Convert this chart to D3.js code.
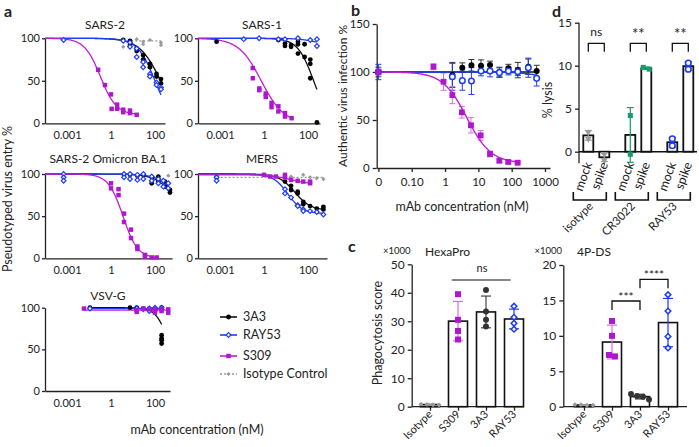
<!DOCTYPE html>
<html><head><meta charset="utf-8">
<script src="https://cdn.jsdelivr.net/npm/d3@7"></script>
<style>
body{margin:0;background:#fff;}
svg text{font-family:Lato,"Liberation Sans",Arial,sans-serif;fill:#222;}
</style></head><body>
<script>
// ---------------- DATA ----------------
// panel a : [concentration nM, % entry]
const aXTickVals=[0.01,1,100], aXTickText=["0.001","1","100"], aYTicks=[0,50,100];
const sars2_S309=[[0.26,63],[0.53,45],[1,34],[1.07,17],[1.9,22],[1.9,17],[3.6,16],[3.6,13],[7.3,15],[7.3,12],[14.7,10]];
const sars2_3A3=[[3.6,98],[7.3,97],[7.3,92],[14.7,88],[14.7,85],[29,80],[29,75],[59,70],[59,66],[117,58],[117,55],[187,52],[187,47]];
const sars2_RAY53=[[0.007,98],[3.6,97],[7.3,95],[7.3,90],[14.7,88],[14.7,78],[29,72],[29,66],[59,58],[59,55],[117,48],[117,45],[187,42],[187,40]];
const sars2_Iso=[[3.6,90],[14.7,99],[29,96],[29,93],[59,98],[187,95],[187,92]];
const sars1_S309=[[0.31,65],[0.31,53],[0.61,41],[0.61,39],[1.2,35],[1.2,31],[2.2,24],[2.2,19],[4.5,20],[4.5,14],[9,12],[9,8],[18,6]];
const sars1_3A3=[[0.007,96],[4.5,98],[9,94],[9,91],[17,92],[17,90],[35,96],[35,93],[35,82],[70,93],[70,78],[127,75],[127,70],[127,53],[255,1]];
const sars1_RAY53=[[0.12,99],[0.6,100],[4.5,99],[9,99],[35,100],[127,98],[255,99],[255,91]];
const omi_S309=[[1,89],[1,83],[2.2,82],[2.2,75],[3.9,53],[3.9,43],[8.1,34],[8.1,24],[15.8,14],[15.8,11],[35,4],[35,2],[71,1],[119,1]];
const omi_3A3=[[3.9,99],[7.3,99],[15.8,98],[29.6,99],[71,96],[71,89],[142,97],[142,91],[285,91],[285,85],[480,81],[480,78]];
const omi_RAY53=[[0.007,100],[0.007,96],[0.007,92],[3.9,100],[3.9,96],[7.3,100],[7.3,94],[15.8,99],[15.8,93],[29.6,100],[29.6,94],[71,97],[71,92],[142,94],[142,89],[240,92],[240,85],[400,89],[400,83]];
const omi_Iso=[[400,98]];
const mers_S309=[[1,99],[1.9,97],[3.5,97],[9,99],[9,96],[17,93],[34,92],[61,91],[124,91],[124,89]];
const mers_3A3=[[0.007,96],[9,91],[17,86],[17,81],[34,79],[34,77],[61,67],[61,64],[124,62],[250,59],[500,61],[500,58]];
const mers_RAY53=[[0.007,96],[0.007,92],[9,82],[9,77],[17,72],[34,63],[34,62],[61,58],[61,56],[124,56],[250,55],[500,52]];
const mers_Iso=[[0.007,96],[17,97],[61,99],[124,96],[250,95],[500,94]];
const vsv_S309=[[0.059,99],[14.7,97],[14.7,95],[29.6,99],[55,98],[100,94],[100,98],[200,98],[200,96],[400,98],[400,94]];
const vsv_3A3=[[0.11,100],[7.3,100],[14.7,100],[29.6,99],[55,99],[55,97],[100,99],[100,96],[200,100],[200,67],[200,63],[200,61],[200,57]];
const vsv_RAY53=[[0.11,99],[14.7,99],[29.6,98],[55,99],[55,96],[100,100],[100,98],[200,100],[200,98]];
// 4-parameter fits: [top, bottom, IC50, hill]
const sars2_fit={S309:[100,10,0.33,1.2],"3A3":[100,0,180,0.9],RAY53:[100,0,100,1.1],Iso:[97,97,1,1]};
const sars1_fit={S309:[100,0,0.75,0.85],"3A3":[100,0,180,1.2],RAY53:[100,90,300,1]};
const omi_fit={S309:[100,0,3.5,1.3],"3A3":[100,0,2000,0.9],RAY53:[100,0,3000,0.9]};
const mers_fit={S309:[99,88,15,1],"3A3":[100,57,25,1.2],RAY53:[100,53,12,1.3],Iso:[96,96,1,1]};
const vsv_fit={S309:[97,97,1,1],"3A3":[100,0,500,1.5],RAY53:[99,99,1,1]};
const legendNames=["3A3","RAY53","S309","Isotype Control"];

// panel b : authentic virus
const bXTickVals=[0.01,0.1,1,10,100,1000], bXTickText=["0","0.10","1","10","100","1000"], bYTicks=[0,50,100,150];
const bS309Conc=[0,0.45,0.9,1.66,3.2,6,11.7,22.4,42.7,79,151];
const bS309Mean=[100,105.5,89.9,76,58,44.5,34,14.6,7.6,6.3,5.5];
const bS309SD=[3,3,9,9,6,8,5,3,2,1.5,1];
const bConc=[0,1.66,3.3,6.2,12,22.4,43,80,153,316,562];
const b3A3Mean=[100,97,104.5,107,106.6,107.3,100,104,102,105.5,101];
const b3A3SD=[5,13,5,6,6,4,5,4,8,8,6];
const bRAY53Mean=[100,95,91,90.6,101,101,99.3,101,100.3,104.5,93.4];
const bRAY53SD=[8,14,10,14,5,6,5,4,4,10,8];
const bFitS309=[100,5,4.5,1.2], bFit3A3=[100,100,1,1], bFitRAY53=[100,94,500,1.5];

// panel c : phagocytosis (x1000)
const cCats=["Isotype","S309","3A3","RAY53"];
const hexaPts=[[0.8,0.7,0.9,0.6],[39.5,30.5,26.6,23.6],[41,33.4,30.5,28.2],[35.3,31.4,29.3,27.2]];
const dsPts=[[0.3,0.2,0.3,0.2],[12.1,10,7.3,7.1],[1.8,1.5,1.4,1.0],[15.8,13.5,9.9,8.3]];

// panel d : % lysis
const dGroups=["isotype","CR3022","RAY53"], dConds=["mock","spike"];
const dPts=[[[2.3,1.5],[-0.3,-1.0]],[[4.2,-0.3],[9.6,9.8]],[[1.5,0.7],[10.3,9.6]]];
const dSig=["ns","**","**"];

// ---------------- DRAW ----------------
const COL={S309:"#c21ed6",S309pt:"#ae17cf","3A3":"#111",RAY53:"#1f3cf5",Iso:"#9a9a9a",green:"#1a9b6c"};
const svg=d3.select("body").append("svg").attr("width",699).attr("height",447);
const fourPL=(p,c)=>p[1]+(p[0]-p[1])/(1+Math.pow(c/p[2],p[3]));
function styleAxis(s,fs){s.selectAll("path,line").attr("stroke","#222").attr("stroke-width",1.3);
  s.selectAll("text").attr("font-size",fs||11).attr("fill","#222");}
function label(x,y,t,fs,o={}){const e=svg.append("text").attr("x",x).attr("y",y).text(t).attr("font-size",fs)
  .attr("text-anchor",o.anchor||"middle");if(o.bold)e.attr("font-weight","bold");
  if(o.rot!=null)e.attr("transform",`rotate(${o.rot},${x},${y})`);return e;}
const dia=(s)=>d3.symbol(d3.symbolSquare,s)();
function marker(g,type,x,y){
  if(type==="S309")g.append("path").attr("d",d3.symbol(d3.symbolSquare,20)()).attr("transform",`translate(${x},${y})`).attr("fill",COL.S309pt);
  else if(type==="3A3")g.append("circle").attr("cx",x).attr("cy",y).attr("r",2.4).attr("fill","#000");
  else if(type==="RAY53")g.append("path").attr("d",dia(11)).attr("transform",`translate(${x},${y}) rotate(45)`).attr("fill","#fff").attr("stroke",COL.RAY53).attr("stroke-width",1.2);
  else g.append("path").attr("d",dia(9)).attr("transform",`translate(${x},${y}) rotate(45)`).attr("fill",COL.Iso);
}
function panelA(cfg){
  const g=svg.append("g");
  const x=d3.scaleLog().domain([0.001,Math.pow(10,-3+cfg.w/22)]).range([cfg.l,cfg.l+cfg.w]);
  const y=d3.scaleLinear().domain([0,100]).range([cfg.y0,cfg.y100]);
  g.append("g").attr("transform",`translate(${cfg.l},0)`).call(d3.axisLeft(y).tickValues(aYTicks).tickSize(3).tickPadding(2).tickSizeOuter(0)).call(styleAxis);
  g.append("g").attr("transform",`translate(0,${cfg.y0})`).call(d3.axisBottom(x).tickValues(aXTickVals).tickFormat((d,i)=>aXTickText[i]).tickSize(0).tickPadding(8).tickSizeOuter(0)).call(styleAxis);
  label(cfg.tx,cfg.ty,cfg.title,12);
  const order=["Iso","3A3","RAY53","S309"];
  const line=d3.line().x(d=>x(d[0])).y(d=>y(d[1]));
  order.forEach(k=>{
    const data=cfg.data[k],p=cfg.fit[k];if(!data||!data.length||!p)return;
    const ext=d3.extent(data,d=>d[0]);
    const c0=(k==="Iso"||cfg.fromData)?ext[0]:0.001, c1=ext[1];
    const l0=Math.log10(c0),l1=Math.log10(c1);
    const pts=d3.range(0,121).map(i=>{const c=Math.pow(10,l0+(l1-l0)*i/120);return [c,fourPL(p,c)];});
    g.append("path").attr("d",line(pts)).attr("fill","none").attr("stroke",COL[k]).attr("stroke-width",1.3)
      .attr("stroke-dasharray",k==="Iso"?"2,2":null);
  });
  order.forEach(k=>{const data=cfg.data[k];if(!data)return;data.forEach(d=>marker(g,k,x(d[0]),y(d[1])));});
}
panelA({l:45,w:120,y0:123.3,y100:38.3,title:"SARS-2",tx:105,ty:29,data:{S309:sars2_S309,"3A3":sars2_3A3,RAY53:sars2_RAY53,Iso:sars2_Iso},fit:sars2_fit});
panelA({l:198,w:122,y0:123.3,y100:38.3,title:"SARS-1",tx:262,ty:29,data:{S309:sars1_S309,"3A3":sars1_3A3,RAY53:sars1_RAY53},fit:sars1_fit});
panelA({l:45,w:127,y0:258.3,y100:174,title:"SARS-2 Omicron BA.1",tx:108,ty:163,data:{S309:omi_S309,"3A3":omi_3A3,RAY53:omi_RAY53,Iso:omi_Iso},fit:omi_fit});
panelA({l:198,w:129,y0:258.3,y100:174,title:"MERS",tx:262,ty:163,data:{S309:mers_S309,"3A3":mers_3A3,RAY53:mers_RAY53,Iso:mers_Iso},fit:mers_fit});
panelA({l:45,w:125,y0:391,y100:307.7,title:"VSV-G",tx:108,ty:300,data:{S309:vsv_S309,"3A3":vsv_3A3,RAY53:vsv_RAY53},fit:vsv_fit,fromData:true});
label(4,17,"a",16,{anchor:"start",bold:true});
label(12,199,"Pseudotyped virus entry %",12.5,{rot:-90});
label(197,434,"mAb concentration (nM)",12.5);
// legend
const legKeys=["3A3","RAY53","S309","Iso"], legY=[317,335,356,374];
legKeys.forEach((k,i)=>{const lg=svg.append("g");
  lg.append("line").attr("x1",220).attr("x2",237).attr("y1",legY[i]).attr("y2",legY[i]).attr("stroke",COL[k]).attr("stroke-width",1.6).attr("stroke-dasharray",k==="Iso"?"2,2":null);
  marker(lg,k,228.5,legY[i]);
  label(243,legY[i]+4,legendNames[i],12.5,{anchor:"start"});});

// ---- panel b
(function(){
  const g=svg.append("g");
  const x=d3.scaleLog().domain([0.0089,1413]).range([376.7,550]);
  const y=d3.scaleLinear().domain([0,150]).range([168,24]);
  const xc=c=>x(c>0?c:0.01);
  g.append("g").attr("transform","translate(376.7,0)").call(d3.axisLeft(y).tickValues(bYTicks).tickSize(4).tickPadding(3).tickSizeOuter(0)).call(styleAxis,11.5);
  g.append("g").attr("transform","translate(0,168)").call(d3.axisBottom(x).tickValues(bXTickVals).tickFormat((d,i)=>bXTickText[i]).tickSize(4).tickPadding(6).tickSizeOuter(0)).call(styleAxis,11.5);
  const line=d3.line().x(d=>x(d[0])).y(d=>y(d[1]));
  const series=[{k:"3A3",c:bConc,m:b3A3Mean,s:b3A3SD,p:bFit3A3,eb:"#333"},{k:"RAY53",c:bConc,m:bRAY53Mean,s:bRAY53SD,p:bFitRAY53,eb:COL.RAY53},{k:"S309",c:bS309Conc,m:bS309Mean,s:bS309SD,p:bFitS309,eb:"#d470e4"}];
  series.forEach(S=>{S.c.forEach((c,i)=>{const X=xc(c),y1=y(S.m[i]+S.s[i]),y2=y(S.m[i]-S.s[i]);
    g.append("line").attr("x1",X).attr("x2",X).attr("y1",y1).attr("y2",y2).attr("stroke",S.eb).attr("stroke-width",1);
    [y1,y2].forEach(yy=>g.append("line").attr("x1",X-3).attr("x2",X+3).attr("y1",yy).attr("y2",yy).attr("stroke",S.eb).attr("stroke-width",1));});});
  series.forEach(S=>{const l0=Math.log10(0.01),l1=Math.log10(d3.max(S.c));
    const pts=d3.range(0,121).map(i=>{const c=Math.pow(10,l0+(l1-l0)*i/120);return [c,fourPL(S.p,c)];});
    g.append("path").attr("d",line(pts)).attr("fill","none").attr("stroke",S.k==="S309"?COL.S309:COL[S.k]).attr("stroke-width",1.4);});
  series.forEach(S=>S.c.forEach((c,i)=>{const X=xc(c),Y=y(S.m[i]);
    if(S.k==="S309")g.append("path").attr("d",d3.symbol(d3.symbolSquare,34)()).attr("transform",`translate(${X},${Y})`).attr("fill",COL.S309pt);
    else if(S.k==="3A3")g.append("circle").attr("cx",X).attr("cy",Y).attr("r",3).attr("fill","#000");
    else g.append("circle").attr("cx",X).attr("cy",Y).attr("r",2.8).attr("fill","#fff").attr("stroke",COL.RAY53).attr("stroke-width",1.5);}));
  label(351,16,"b",16,{anchor:"start",bold:true});
  label(347,96,"Authentic virus infection %",12,{rot:-90});
  label(462,211,"mAb concentration (nM)",12.5);
})();

// ---- panel c
function swarm(vals,y,gap){const idx=vals.map((v,i)=>i).sort((a,b)=>vals[b]-vals[a]);
  const off=new Array(vals.length).fill(0);let cl=[idx[0]];
  const flush=()=>{cl.forEach((j,n)=>off[j]=(n-(cl.length-1)/2)*gap);};
  for(let i=1;i<idx.length;i++){if(Math.abs(y(vals[idx[i]])-y(vals[cl[cl.length-1]]))<5)cl.push(idx[i]);else{flush();cl=[idx[i]];}}
  flush();return off;}
const cEb=[COL.Iso,"#d470e4","#444",COL.RAY53];
function panelC(cfg){
  const g=svg.append("g");
  const y=d3.scaleLinear().domain([0,cfg.max]).range([406.7,cfg.top]);
  const x=d3.scalePoint().domain(cCats).range(cfg.xr);
  g.append("g").attr("transform",`translate(${cfg.l},0)`).call(d3.axisLeft(y).tickValues(cfg.ticks).tickSize(4).tickPadding(3).tickSizeOuter(0)).call(styleAxis,12);
  const ax=g.append("g").attr("transform","translate(0,406.7)").call(d3.axisBottom(x).tickSize(4).tickFormat("").tickSizeOuter(0)).call(styleAxis);
  ax.select(".domain").attr("d",`M${cfg.l},0H${cfg.r}`);
  cCats.forEach((c,i)=>{const vals=cfg.pts[i],m=d3.mean(vals),sd=d3.deviation(vals),X=x(c);
    g.append("rect").attr("x",X-9.5).attr("width",19).attr("y",y(m)).attr("height",406.7-y(m)).attr("fill","#fff").attr("stroke","#111").attr("stroke-width",1.6);
    [[m-sd,m+sd]].forEach(([a,b])=>{g.append("line").attr("x1",X).attr("x2",X).attr("y1",y(a)).attr("y2",y(b)).attr("stroke",cEb[i]).attr("stroke-width",1.2);
      [a,b].forEach(v=>g.append("line").attr("x1",X-5).attr("x2",X+5).attr("y1",y(v)).attr("y2",y(v)).attr("stroke",cEb[i]).attr("stroke-width",1.2));});
    const off=swarm(vals,y,6);
    vals.forEach((v,j)=>{const px=X+off[j],py=y(v);
      if(i===1)g.append("path").attr("d",d3.symbol(d3.symbolSquare,36)()).attr("transform",`translate(${px},${py})`).attr("fill",COL.S309pt);
      else if(i===2)g.append("circle").attr("cx",px).attr("cy",py).attr("r",3).attr("fill","#333");
      else if(i===3)g.append("path").attr("d",dia(16)).attr("transform",`translate(${px},${py}) rotate(45)`).attr("fill","#fff").attr("stroke",COL.RAY53).attr("stroke-width",1.5);
      else g.append("path").attr("d",dia(12)).attr("transform",`translate(${px},${py}) rotate(45)`).attr("fill",COL.Iso);});
    label(X+3,415,c,11,{anchor:"end",rot:-45});
  });
  label(cfg.l-15,254,"×1000",9.5);
  label(cfg.tl,256,cfg.title,12,{anchor:"start"});
  return {x,y,g};
}
const hx=panelC({l:411.7,r:524,xr:[430,514],top:264.3,max:50,ticks:[0,10,20,30,40,50],pts:hexaPts,title:"HexaPro",tl:425});
svg.append("line").attr("x1",451.7).attr("x2",510.7).attr("y1",280).attr("y2",280).attr("stroke","#111").attr("stroke-width",1.2);
label(482,272,"ns",11);
const ds=panelC({l:563.3,r:687,xr:[584,668],top:265,max:20,ticks:[0,5,10,15,20],pts:dsPts,title:"4P-DS",tl:577});
function bracket(x1,x2,yTop,yLeg,t,ty,fs){const p=d3.path();p.moveTo(x1,yLeg);p.lineTo(x1,yTop);p.lineTo(x2,yTop);p.lineTo(x2,yLeg);
  svg.append("path").attr("d",p.toString()).attr("fill","none").attr("stroke","#111").attr("stroke-width",1.3);
  label((x1+x2)/2,ty,t,fs);}
bracket(ds.x("S309"),ds.x("3A3"),301,310,"***",301,12);
bracket(ds.x("3A3"),ds.x("RAY53"),279.3,288.3,"****",279,12);
label(348,252,"c",16,{anchor:"start",bold:true});
label(382,333,"Phagocytosis score",12.5,{rot:-90});

// ---- panel d
(function(){
  const g=svg.append("g");
  const y=d3.scaleLinear().domain([0,15]).range([151.7,22.7]);
  const gx=d3.scalePoint().domain(dGroups).range([596.3,680.3]);
  const cx=(gi,ci)=>gx(dGroups[gi])+(ci?8:-8);
  const ya=g.append("g").attr("transform","translate(579,0)").call(d3.axisLeft(y).tickValues([0,5,10,15]).tickSize(4).tickPadding(3).tickSizeOuter(0)).call(styleAxis,12);
  ya.select(".domain").attr("d",`M0,${y(15)}V${y(-1.35)}`);
  g.append("line").attr("x1",579).attr("x2",697).attr("y1",y(0)).attr("y2",y(0)).attr("stroke","#111").attr("stroke-width",1.6);
  const ptCol=[COL.Iso,COL.green,COL.RAY53];
  dGroups.forEach((grp,gi)=>{
    dConds.forEach((cnd,ci)=>{const vals=dPts[gi][ci],m=d3.mean(vals),sd=d3.deviation(vals),X=cx(gi,ci);
      g.append("rect").attr("x",X-5).attr("width",10).attr("y",Math.min(y(m),y(0))).attr("height",Math.abs(y(m)-y(0))).attr("fill","#fff").attr("stroke","#111").attr("stroke-width",1.8);
      g.append("line").attr("x1",X).attr("x2",X).attr("y1",y(m-sd)).attr("y2",y(m+sd)).attr("stroke",ptCol[gi]).attr("stroke-width",1.2);
      [m-sd,m+sd].forEach(v=>g.append("line").attr("x1",X-3.5).attr("x2",X+3.5).attr("y1",y(v)).attr("y2",y(v)).attr("stroke",ptCol[gi]).attr("stroke-width",1.2));
      const off=swarm(vals,y,6);
      vals.forEach((v,j)=>{const px=X+off[j],py=y(v);
        if(gi===0)g.append("path").attr("d",d3.symbol(d3.symbolTriangle,20)()).attr("transform",`translate(${px},${py}) rotate(180)`).attr("fill",COL.Iso);
        else if(gi===1)g.append("path").attr("d",d3.symbol(d3.symbolSquare,26)()).attr("transform",`translate(${px},${py})`).attr("fill",COL.green);
        else g.append("circle").attr("cx",px).attr("cy",py).attr("r",2.8).attr("fill","#fff").attr("stroke",COL.RAY53).attr("stroke-width",1.6);});
      label(X+4,164,cnd,12.5,{anchor:"end",rot:-70});
    });
    const x1=cx(gi,0),x2=cx(gi,1);
    bracket(x1,x2,43.3,51.7,dSig[gi],dSig[gi]==="ns"?36:39,dSig[gi]==="ns"?12:15);
    const b1=x1-15,b2=x2+2,p=d3.path();p.moveTo(b1,192);p.lineTo(b1,200);p.lineTo(b2,200);p.lineTo(b2,192);
    svg.append("path").attr("d",p.toString()).attr("fill","none").attr("stroke","#111").attr("stroke-width",1.6);
    label((b1+b2)/2+4,207,grp,11.5,{anchor:"end",rot:-45});
  });
  label(552,17,"d",16,{anchor:"start",bold:true});
  label(552,100,"% lysis",12.5,{rot:-90});
})();
</script></body></html>
